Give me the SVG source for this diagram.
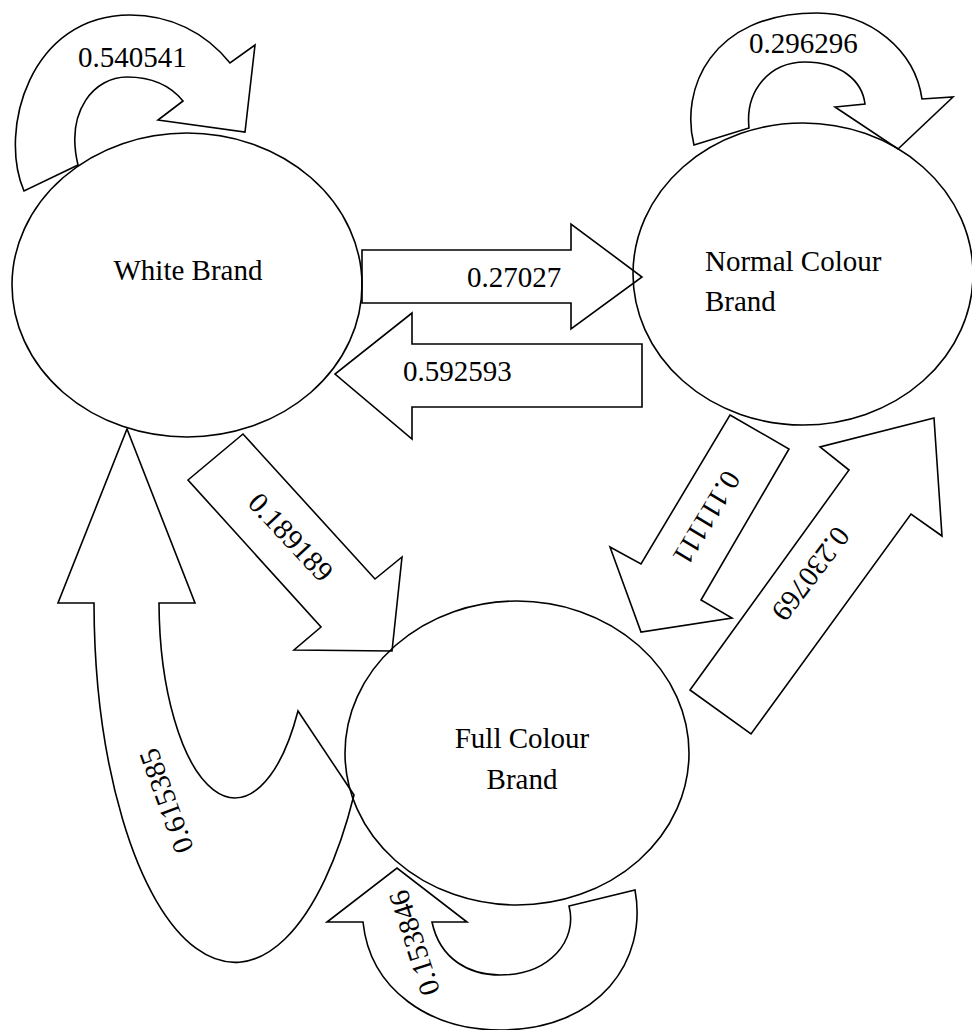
<svg xmlns="http://www.w3.org/2000/svg" width="972" height="1030" viewBox="0 0 972 1030">
<style>
.shape{fill:none;stroke:#000;stroke-width:1.6;stroke-linejoin:miter}
.lbl{font-family:"Liberation Serif","Times New Roman",serif;font-size:29px;fill:#000}
.mid{text-anchor:middle}
</style>
<rect x="0" y="0" width="972" height="1030" fill="#fff"/>
<g id="connectors">
  <g id="loop-white">
    <path class="shape" d="M24,191 C-2,130 30,15 130,15 C170,15 205,32 230,63 L255,45 L245,132 L158,120 L183,101 C170,85 150,77 127,77 C95,77 65,110 78,165 Z"/>
    <text class="lbl" x="78" y="67">0.540541</text>
  </g>
  <g id="loop-normal">
    <path class="shape" d="M694,145 C680,90 710,13 817,13 C870,13 915,50 922,99 L953,97 L898,149 L835,107 L865,104 C862,80 840,62 805,62 C770,62 745,90 749,128 Z"/>
    <text class="lbl" x="749" y="53">0.296296</text>
  </g>
  <g id="white-to-normal">
    <path class="shape" d="M362,250 L571,250 L571,224 L642,277 L571,329 L571,303 L362,303 Z"/>
    <text class="lbl" x="467" y="287">0.27027</text>
  </g>
  <g id="normal-to-white">
    <path class="shape" d="M642,344 L412,344 L412,313 L335,374 L412,439 L412,407 L642,407 Z"/>
    <text class="lbl" x="403" y="381">0.592593</text>
  </g>
  <g id="white-to-full">
    <path class="shape" d="M188,480 L243,434 L375,579 L402,557 L392,651 L294,650 L321,627 Z"/>
    <text class="lbl mid" transform="translate(291,537) rotate(47)" x="0" y="10">0.189189</text>
  </g>
  <g id="normal-to-full">
    <path class="shape" d="M730,415 L789,449 L701,600 L732,618 L641,632 L610,547 L641,564 Z"/>
    <text class="lbl mid" transform="translate(707,518) rotate(121)" x="0" y="10">0.111111</text>
  </g>
  <g id="full-to-normal">
    <path class="shape" d="M690,690 L849,470 L820,447 L934,418 L942,536 L911,514 L751,734 Z"/>
    <text class="lbl mid" transform="translate(811,574) rotate(127)" x="0" y="10">0.230769</text>
  </g>
  <g id="full-to-white">
    <path class="shape" d="M159,603 L195,603 L127,429 L58,603 L94,603 A141,361 0 0,0 354,795 L298,711 A76,197 0 0,1 159,603 Z"/>
    <text class="lbl mid" transform="translate(166,801) rotate(-110)" x="0" y="10">0.615385</text>
  </g>
  <g id="loop-full">
    <path class="shape" d="M363,922 L327,922 L397,868 L467,922 L432,922 C440,960 470,975 500,975 C550,975 578,940 569,906 L635,890 C648,960 600,1030 500,1030 C430,1030 370,990 363,922 Z"/>
    <text class="lbl mid" transform="translate(414,943) rotate(-108)" x="0" y="10">0.153846</text>
  </g>
</g>
<g id="node-white">
  <ellipse class="shape" cx="187" cy="285" rx="175" ry="152"/>
  <text class="lbl mid" x="188" y="280">White Brand</text>
</g>
<g id="node-normal">
  <ellipse class="shape" cx="803" cy="274" rx="170" ry="151"/>
  <text class="lbl" x="705" y="271">Normal Colour</text>
  <text class="lbl" x="705" y="311">Brand</text>
</g>
<g id="node-full">
  <ellipse class="shape" cx="517" cy="753" rx="172" ry="152"/>
  <text class="lbl mid" x="522" y="748">Full Colour</text>
  <text class="lbl mid" x="522" y="789">Brand</text>
</g>
</svg>
